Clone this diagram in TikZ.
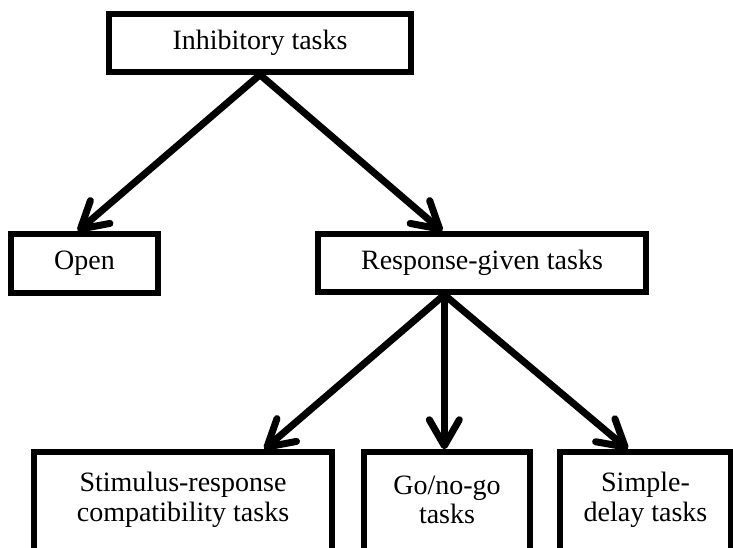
\documentclass[tikz,border=0pt]{standalone}
\usepackage{fontspec}
\setmainfont{Liberation Serif}
\usetikzlibrary{arrows.meta,calc}

\tikzset{
  taskbox/.style={draw=black, line width=5.5pt, fill=white, inner sep=0pt},
  boxtext/.style={align=center, font=\fontsize{28}{29.5}\selectfont, inner sep=0pt},
  branch/.style={line width=7pt, black,
    -{Straight Barb[length=26pt, width=30pt, line cap=round, line join=round]},
    preaction={draw=black!25, transform canvas={shift={(1.6pt,-1.6pt)}}}},
}

\begin{document}
\begin{tikzpicture}[x=1pt, y=-1pt]
  \clip (0,0) rectangle (733,547);
  \fill[white] (0,0) rectangle (733,547);

  % upper levels
  \node[taskbox, minimum width=302pt, minimum height=58pt] (inhib) at (260,43) {};
  \node[boxtext] (inhibtxt) at (inhib.center) {Inhibitory tasks};

  \node[taskbox, minimum width=147pt, minimum height=59pt] (open) at (84.5,263.5) {};
  \node[boxtext] (opentxt) at (open.center) {Open};

  \node[taskbox, minimum width=328pt, minimum height=58pt] (given) at (482,263) {};
  \node[boxtext] (giventxt) at (given.center) {Response-given tasks};

  % lower level (boxes run past the lower edge)
  \node[taskbox, minimum width=298pt, minimum height=130pt] (src) at (183,517) {};
  \node[boxtext] (srctxt) at (183,500) {Stimulus-response\\compatibility tasks};

  \node[taskbox, minimum width=166pt, minimum height=130pt] (gonogo) at (447,517) {};
  \node[boxtext] (gonogotxt) at (447,500) {Go/no-go\\tasks};

  \node[taskbox, minimum width=171pt, minimum height=130pt] (delay) at (645.5,517) {};
  \node[boxtext] (delaytxt) at (645.5,500) {Simple-\\delay tasks};

  % branches
  \draw[branch] (inhib.south) -- ($(open.north west)!0.456!(open.north east)$);
  \draw[branch] (inhib.south) -- ($(given.north west)!0.381!(given.north east)$);

  \coordinate (fork) at ($(given.south west)!0.387!(given.south east)$);
  \draw[branch] (fork) -- ($(src.north west)!0.768!(src.north east)$);
  \draw[branch] (fork) -- (fork |- gonogo.north);
  \draw[branch] (fork) -- ($(delay.north west)!0.40!(delay.north east)$);
\end{tikzpicture}
\end{document}
